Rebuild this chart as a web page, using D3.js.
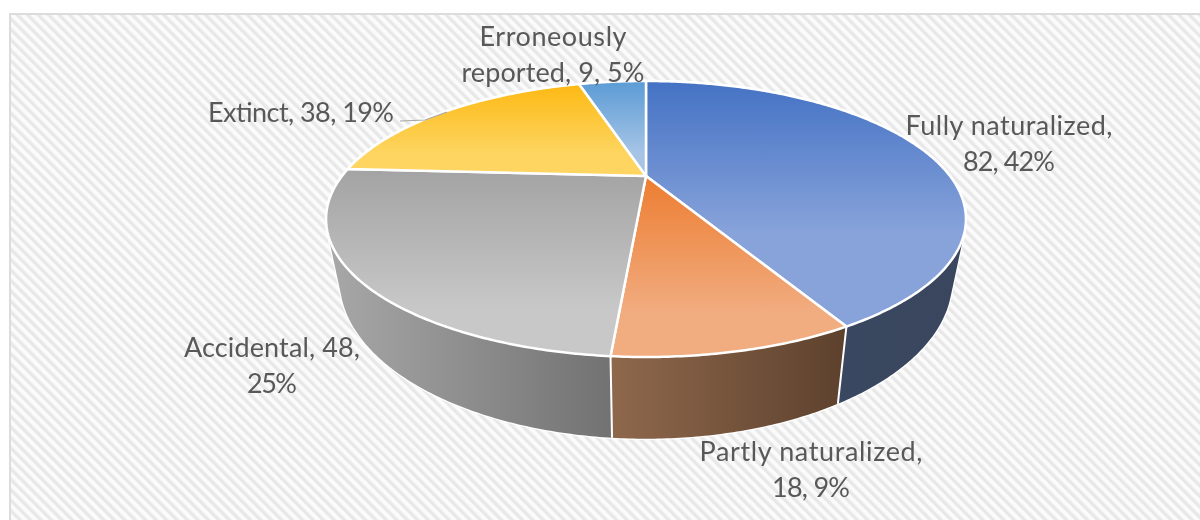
<!DOCTYPE html>
<html><head><meta charset="utf-8">
<script src="https://cdn.jsdelivr.net/npm/d3@7"></script>
<style>html,body{margin:0;padding:0;background:#fff}svg{display:block}</style>
</head><body><div id="c"></div>
<script>
const categories = ["Fully naturalized","Partly naturalized","Accidental","Extinct","Erroneously reported"];
const values = [82,18,48,38,9];
const percents = ["42%","9%","25%","19%","5%"];
const labelLines = [
  ["Fully naturalized,","82, 42%"],
  ["Partly naturalized,","18, 9%"],
  ["Accidental, 48,","25%"],
  ["Extinct, 38, 19%"],
  ["Erroneously","reported, 9, 5%"]
];
const topColors = [["#4472c4","#88a3da"],["#ed7d31","#f1ac80"],["#a3a3a3","#c8c8c8"],["#fdb913","#fdd560"],["#5b9bd5","#a5c4e6"]];
const wallColors = [["#3b4963","#39465e"],["#8f684c","#5d412d"],["#a8a8a8","#727272"],["#a8a8a8","#a8a8a8"],["#3d6f9e","#2f5f8e"]];

const W=1200,H=520;
const svg=d3.select("#c").append("svg").attr("width",W).attr("height",H);
const defs=svg.append("defs");
const hatch=defs.append("pattern").attr("id","hatch").attr("patternUnits","userSpaceOnUse")
  .attr("width",7.4).attr("height",7.4).attr("patternTransform","rotate(-45)");
hatch.append("rect").attr("width",7.4).attr("height",7.4).attr("fill","#fbfbfb");
hatch.append("rect").attr("width",3.4).attr("height",7.4).attr("fill","#e8e8e8");
defs.append("filter").attr("id","soft").append("feGaussianBlur").attr("stdDeviation",0.55);

svg.append("rect").attr("x",10).attr("y",14).attr("width",W).attr("height",H)
  .attr("fill","url(#hatch)").attr("stroke","#dcdcdc").attr("stroke-width",2);

// perspective projection of the pie's unit disc onto the page
const cx=646;
const topDisc={a:304,b:124.6,k:-0.3116,cy:176};
const botDisc={a:291,b:143,k:-0.3116,cy:231};
const proj=(d,t,r=1)=>{const u=r*Math.sin(t),v=-r*Math.cos(t),q=1+d.k*v;return [cx+d.a*u/q,d.cy+d.b*v/q];};
const samples=(s,e)=>{const n=Math.max(2,Math.ceil((e-s)/0.01));return d3.range(n+1).map(i=>s+(e-s)*i/n);};
const line=d3.line();
const arcs=d3.pie().sort(null).value(d=>d)(values);

function grad(id,c,horizontal,stopAt){
  const g=defs.append("linearGradient").attr("id",id).attr("x1",0).attr("y1",0)
    .attr("x2",horizontal?1:0).attr("y2",horizontal?0:1);
  g.append("stop").attr("offset",0).attr("stop-color",c[0]);
  g.append("stop").attr("offset",stopAt).attr("stop-color",c[1]);
  g.append("stop").attr("offset",1).attr("stop-color",c[1]);
}
arcs.forEach((a,i)=>{grad("t"+i,topColors[i],false,i===0?0.62:0.75);grad("w"+i,wallColors[i],true,1);});

// side wall of a slice: a strip of small quads, so the tangent silhouette is filled
const wallPath=a=>{const ts=samples(a.startAngle,a.endAngle);let p="";
  for(let i=0;i<ts.length-1;i++){
    let q=[proj(topDisc,ts[i]),proj(topDisc,ts[i+1]),proj(botDisc,ts[i+1]),proj(botDisc,ts[i])];
    if(d3.polygonArea(q)<0)q.reverse();
    p+=line(q)+"Z";
  }
  return p;};
const walls=svg.append("g");
walls.selectAll("path.halo").data(arcs).join("path").attr("class","halo").attr("d",wallPath)
  .attr("fill","#fff").attr("stroke","#fff").attr("stroke-width",2.5).attr("stroke-linejoin","round");
walls.selectAll("path.wall").data(arcs).join("path").attr("class","wall").attr("d",wallPath)
  .attr("fill",(a,i)=>`url(#w${i})`);
walls.selectAll("path.edge").data(arcs).join("path").attr("class","edge")
  .attr("d",a=>line([proj(topDisc,a.startAngle),proj(botDisc,a.startAngle)]))
  .attr("fill","none").attr("stroke","#fff").attr("stroke-width",2);

// top faces
svg.append("g").selectAll("path").data(arcs).join("path")
  .attr("d",a=>line([[cx,topDisc.cy]].concat(samples(a.startAngle,a.endAngle).map(t=>proj(topDisc,t))))+"Z")
  .attr("fill",(a,i)=>`url(#t${i})`).attr("stroke","#fff").attr("stroke-width",2.5).attr("stroke-linejoin","round");

// leader line for Extinct
svg.append("path").attr("d",line([[400,121],[425,120],[447,112]])).attr("fill","none").attr("stroke","#a6a6a6").attr("stroke-width",1.2);

// labels
const labelPos=[[1009,135],[811,461],[272,357],[301,122],[553,46]];
const labelWidths=[[207,92],[223,78],[176,50],[186],[147,183]];
const lh=35.5;
const txt=svg.append("g").attr("filter","url(#soft)").attr("font-family","Lato,sans-serif").attr("font-size",27).attr("fill","#595959").attr("text-anchor","middle");
labelLines.forEach((ls,i)=>{ls.forEach((s,j)=>{
  txt.append("text").attr("x",labelPos[i][0]).attr("y",labelPos[i][1]+j*lh)
    .attr("textLength",labelWidths[i][j]).attr("lengthAdjust","spacing").text(s);
});});
</script></body></html>
